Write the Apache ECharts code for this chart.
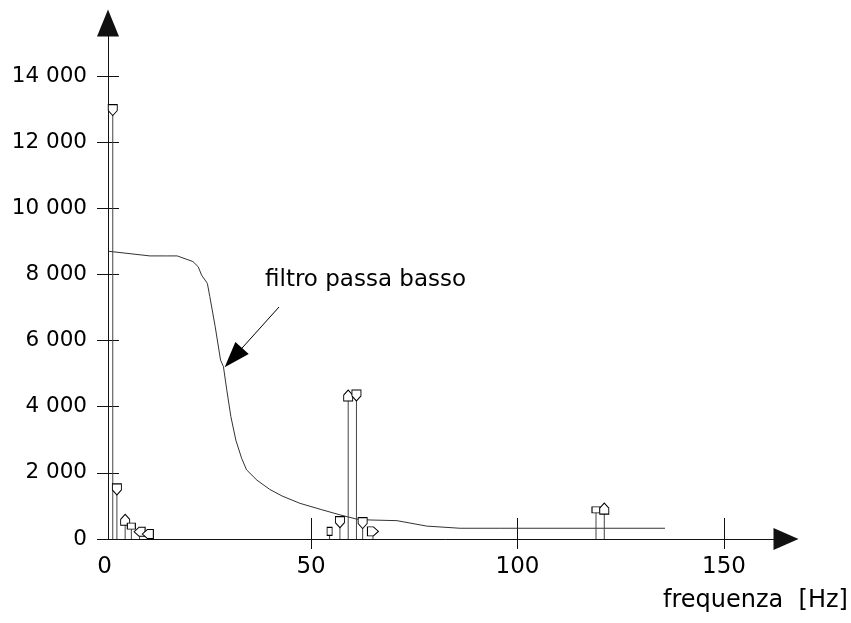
<!DOCTYPE html>
<html><head><meta charset="utf-8">
<script src="https://cdn.jsdelivr.net/npm/echarts@6/dist/echarts.min.js"></script>
<style>html,body{margin:0;padding:0;background:#fff}#c{width:851px;height:623px}</style>
</head><body><div id="c"></div>
<script>
// ---- data ----
const xTickValues = [50, 100, 150];
const xLabelValues = [0, 50, 100, 150];
const yTickValues = [0, 2000, 4000, 6000, 8000, 10000, 12000, 14000];

// spectral lines (Hz, amplitude)
const lineFreqs = [2, 3, 5, 6.5, 8.5, 10.5, 54.5, 57, 59, 61, 62.5, 65, 119, 121];
const lineAmps  = [12970, 1500, 580, 390, 220, 150, 230, 510, 4340, 4340, 480, 230, 880, 920];
const markerKinds = ['d', 'd', 'u', 's', 'l', 'l', 'v', 'd', 'u', 'd', 'd', 'r', 's', 'u'];

// low-pass filter curve
const filterFreqs = [1, 11, 15, 17.6, 21.4, 22.7, 23.5, 24.9, 25.5, 26.8, 28.1, 28.8, 29.6, 30.6, 31.8, 33.2, 34.4, 36.9, 40, 43, 47.3, 52.2, 57, 61.1, 64.3, 70.8, 78, 86.1, 95.8, 135.7];
const filterGains = [8700, 8560, 8560, 8560, 8390, 8230, 7980, 7730, 7330, 6420, 5410, 5210, 4510, 3700, 2990, 2440, 2090, 1780, 1500, 1300, 1080, 900, 730, 600, 575, 555, 390, 325, 325, 325];

const annotationText = 'filtro passa basso';
const xAxisTitle = 'frequenza  [Hz]';
const arrowFrom = [42.25, 7015];
const arrowTo = [31.2, 5482];

// ---- styles ----
const FONT = '"DejaVu Sans", "Liberation Sans", Arial, sans-serif';
const housePath = 'path://M0,0L10,0L10,6L5,11L0,6Z';
const kindStyle = {
  d: {symbol: housePath, size: [9, 11], rot: 0},
  u: {symbol: housePath, size: [9, 11], rot: 180},
  l: {symbol: housePath, size: [9, 11], rot: -90},
  r: {symbol: housePath, size: [9, 11], rot: 90},
  s: {symbol: 'rect', size: [8, 6], rot: 0},
  v: {symbol: 'rect', size: [5, 8], rot: 0}
};

const chart = echarts.init(document.getElementById('c'), null, {renderer: 'canvas'});
const axisColor = '#111';
const xMax = 165, yMax = 15600;

chart.setOption({
  animation: false,
  backgroundColor: '#fff',
  grid: {left: 104.5, right: 65, top: 23.1, bottom: 84, containLabel: false, outerBoundsMode: 'none'},
  xAxis: [{
    type: 'value', position: 'bottom', min: 0, max: xMax,
    axisLine: {onZero: false, lineStyle: {color: axisColor, width: 1}, symbol: ['none', 'triangle'], symbolSize: [22, 25]},
    axisTick: {show: true, inside: false, length: 10, customValues: xTickValues, lineStyle: {color: axisColor}},
    axisLabel: {customValues: xLabelValues, margin: 17, fontFamily: FONT, fontSize: 23, color: '#000'},
    splitLine: {show: false}
  }, {
    type: 'value', position: 'bottom', min: 0, max: xMax,
    axisLine: {show: false, onZero: false},
    axisTick: {show: true, inside: true, length: 21, customValues: xTickValues, lineStyle: {color: axisColor}},
    axisLabel: {show: false},
    splitLine: {show: false}
  }],
  yAxis: [{
    type: 'value', position: 'left', min: 0, max: yMax, offset: -3.5,
    axisLine: {show: true, onZero: false, lineStyle: {color: axisColor, width: 1}, symbol: ['none', 'triangle'], symbolSize: [22, 27]},
    axisTick: {show: true, inside: false, length: 11, customValues: yTickValues, lineStyle: {color: axisColor}},
    axisLabel: {customValues: yTickValues, margin: 21, fontFamily: FONT, fontSize: 21.5, color: '#000',
      formatter: v => v >= 1000 ? Math.floor(v / 1000) + ' 000' : String(v)},
    splitLine: {show: false}
  }, {
    type: 'value', position: 'left', min: 0, max: yMax, offset: -3.5,
    axisLine: {show: false, onZero: false},
    axisTick: {show: true, inside: true, length: 11, customValues: yTickValues, lineStyle: {color: axisColor}},
    axisLabel: {show: false},
    splitLine: {show: false}
  }],
  series: [{
    type: 'line', xAxisIndex: 0, yAxisIndex: 0, z: 2,
    data: filterFreqs.map((f, i) => [f, filterGains[i]]),
    showSymbol: false, symbol: 'none', smooth: false,
    lineStyle: {color: '#333', width: 1},
    markLine: {
      silent: true, symbol: ['none', 'triangle'], symbolSize: [18, 26],
      label: {show: false},
      lineStyle: {color: '#000', width: 1, type: 'solid'},
      emphasis: {disabled: true},
      data: [[{coord: arrowFrom}, {coord: arrowTo}]]
    }
  }, {
    type: 'custom', xAxisIndex: 0, yAxisIndex: 0, z: 3,
    encode: {x: 0, y: 1},
    data: lineFreqs.map((f, i) => [f, lineAmps[i]]),
    renderItem: function (params, api) {
      const x = api.value(0), v = api.value(1);
      const p0 = api.coord([x, 0]), p1 = api.coord([x, v]);
      return {type: 'line', shape: {x1: p0[0], y1: p0[1], x2: p1[0], y2: p1[1]},
        style: {stroke: '#444', lineWidth: 1}};
    }
  }, {
    type: 'scatter', xAxisIndex: 0, yAxisIndex: 0, z: 4,
    data: lineFreqs.map((f, i) => {
      const k = kindStyle[markerKinds[i]];
      return {value: [f, lineAmps[i]], symbol: k.symbol, symbolSize: k.size, symbolRotate: k.rot};
    }),
    itemStyle: {color: '#fff', borderColor: '#000', borderWidth: 1, opacity: 1}
  }],
  graphic: [{
    type: 'text', left: 265, top: 269, z: 10,
    style: {text: annotationText, font: '23px ' + FONT, fill: '#000'}
  }, {
    type: 'text', left: 663, top: 589, z: 10,
    style: {text: xAxisTitle, font: '24px ' + FONT, fill: '#000'}
  }]
});
</script>
</body></html>
